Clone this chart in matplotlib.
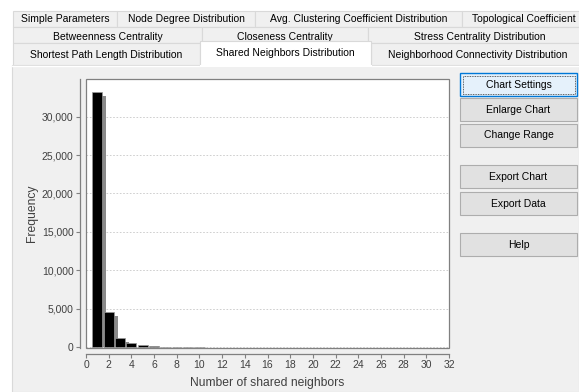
import matplotlib
matplotlib.use("Agg")
import matplotlib.pyplot as plt
from matplotlib.patches import Rectangle
from matplotlib.ticker import FuncFormatter

# histogram of shared neighbor counts
shared = [1, 2, 3, 4, 5, 6, 7, 8, 9, 10]
freq = [33240, 4520, 1130, 480, 230, 110, 55, 25, 12, 6]

x_ticks = list(range(0, 33, 2))
y_ticks = [0, 5000, 10000, 15000, 20000, 25000, 30000]

# tab rows: (label, left, right)
tab_row1 = [("Simple Parameters", 13, 117),
            ("Node Degree Distribution", 117, 255),
            ("Avg. Clustering Coefficient Distribution", 255, 462),
            ("Topological Coefficient Distribution", 462, 690)]
tab_row2 = [("Betweenness Centrality", 13, 202),
            ("Closeness Centrality", 202, 368),
            ("Stress Centrality Distribution", 368, 592)]
tab_row3 = [("Shortest Path Length Distribution", 13, 200),
            ("Neighborhood Connectivity Distribution", 371, 584)]
selected_tab = ("Shared Neighbors Distribution", 200, 371)

buttons = [("Chart Settings", 73), ("Enlarge Chart", 98), ("Change Range", 124),
           ("Export Chart", 165), ("Export Data", 192), ("Help", 233)]

W, H = 579, 392
FONT = "Liberation Sans"

fig = plt.figure(figsize=(W / 100, H / 100), dpi=100, facecolor="white")

# window chrome drawn in pixel coordinates
ui = fig.add_axes([0, 0, 1, 1])
ui.set_xlim(0, W)
ui.set_ylim(H, 0)
ui.axis("off")

ui.add_patch(Rectangle((12, 65), W - 12, H - 65, facecolor="#f0f0f0",
                       edgecolor="#d9d9d9", lw=0.8))
ui.plot([12, W], [65.5, 65.5], color="white", lw=1)


def draw_tabs(row, top, bottom, text_y):
    for label, left, right in row:
        ui.add_patch(Rectangle((left, top), right - left, bottom - top,
                               facecolor="#f0f0f0", edgecolor="#d9d9d9", lw=0.8))
        if right - W > 50:
            # tab runs well past the window edge, text starts near its left side
            ui.text(left + 10, text_y, label, ha="left", va="center",
                    fontsize=7.5, family=FONT, color="black")
        else:
            ui.text((left + right) / 2, text_y, label, ha="center", va="center",
                    fontsize=7.5, family=FONT, color="black")


draw_tabs(tab_row1, 11, 27, 18.5)
draw_tabs(tab_row2, 27, 43, 36.5)
draw_tabs(tab_row3, 43, 65, 54.5)

# the active tab sits a little higher and is white
label, left, right = selected_tab
ui.add_patch(Rectangle((left, 41), right - left, 25, facecolor="white",
                       edgecolor="#d9d9d9", lw=0.8, zorder=3))
ui.plot([left + 0.5, right - 0.5], [65.5, 65.5], color="white", lw=1.5, zorder=4)
ui.text((left + right) / 2, 52.5, label, ha="center", va="center",
        fontsize=7.5, family=FONT, color="black", zorder=5)

# buttons on the right
for i, (label, top) in enumerate(buttons):
    if i == 0:
        ui.add_patch(Rectangle((460, top), 117, 23, facecolor="#e5f1fb",
                               edgecolor="#0078d7", lw=1.0))
        ui.add_patch(Rectangle((462.5, top + 2.5), 112, 18, facecolor="none",
                               edgecolor="#333333", lw=0.6, ls=(0, (1, 1))))
    else:
        ui.add_patch(Rectangle((460, top), 117, 23, facecolor="#e1e1e1",
                               edgecolor="#adadad", lw=0.8))
    ui.text(518.5, top + 11.5, label, ha="center", va="center",
            fontsize=7.5, family=FONT, color="black")

# chart area
left_px, right_px, top_px, bottom_px = 86, 449, 79, 348
ax = fig.add_axes([left_px / W, 1 - bottom_px / H,
                   (right_px - left_px) / W, (bottom_px - top_px) / H])
ax.set_facecolor("white")
xmin, xmax = 0, 32
ymin, ymax = -130, 34900
ax.set_xlim(xmin, xmax)
ax.set_ylim(ymin, ymax)

# bar shadows, offset a few pixels right and down
dx = 4 * (xmax - xmin) / (right_px - left_px)
dy = 4 * (ymax - ymin) / (bottom_px - top_px)
shadow_h = [max(f - dy, 0) for f in freq]
ax.bar([s + dx for s in shared], shadow_h, width=0.9, color="#8a8a8a",
       linewidth=0, zorder=2)
ax.bar(shared, freq, width=0.9, color="black",
       edgecolor="#9a9a9a", linewidth=0.5, zorder=3)

ax.set_xticks(x_ticks)
ax.set_yticks(y_ticks)
ax.yaxis.set_major_formatter(FuncFormatter(lambda v, p: f"{int(v):,}"))
ax.grid(axis="y", color="#c8c8c8", linestyle=(0, (2, 2)), linewidth=0.6, zorder=1)

for side in ["top", "right"]:
    ax.spines[side].set_visible(False)
for side in ["left", "bottom"]:
    ax.spines[side].set_position(("outward", 4))
    ax.spines[side].set_color("#808080")
    ax.spines[side].set_linewidth(0.9)
ax.add_patch(Rectangle((0, 0), 1, 1, transform=ax.transAxes, fill=False,
                       edgecolor="#808080", lw=0.9, clip_on=False, zorder=4))

ax.tick_params(axis="both", length=3, width=0.8, color="#808080",
               labelsize=7.5, labelcolor="#404040", pad=2)
for t in ax.get_xticklabels() + ax.get_yticklabels():
    t.set_family(FONT)

ax.set_xlabel("Number of shared neighbors", fontsize=8.7, family=FONT,
              color="#404040", labelpad=5)
ax.set_ylabel("Frequency", fontsize=8.7, family=FONT, color="#404040",
              labelpad=3)

fig.savefig("out.png", dpi=100, facecolor=fig.get_facecolor())
